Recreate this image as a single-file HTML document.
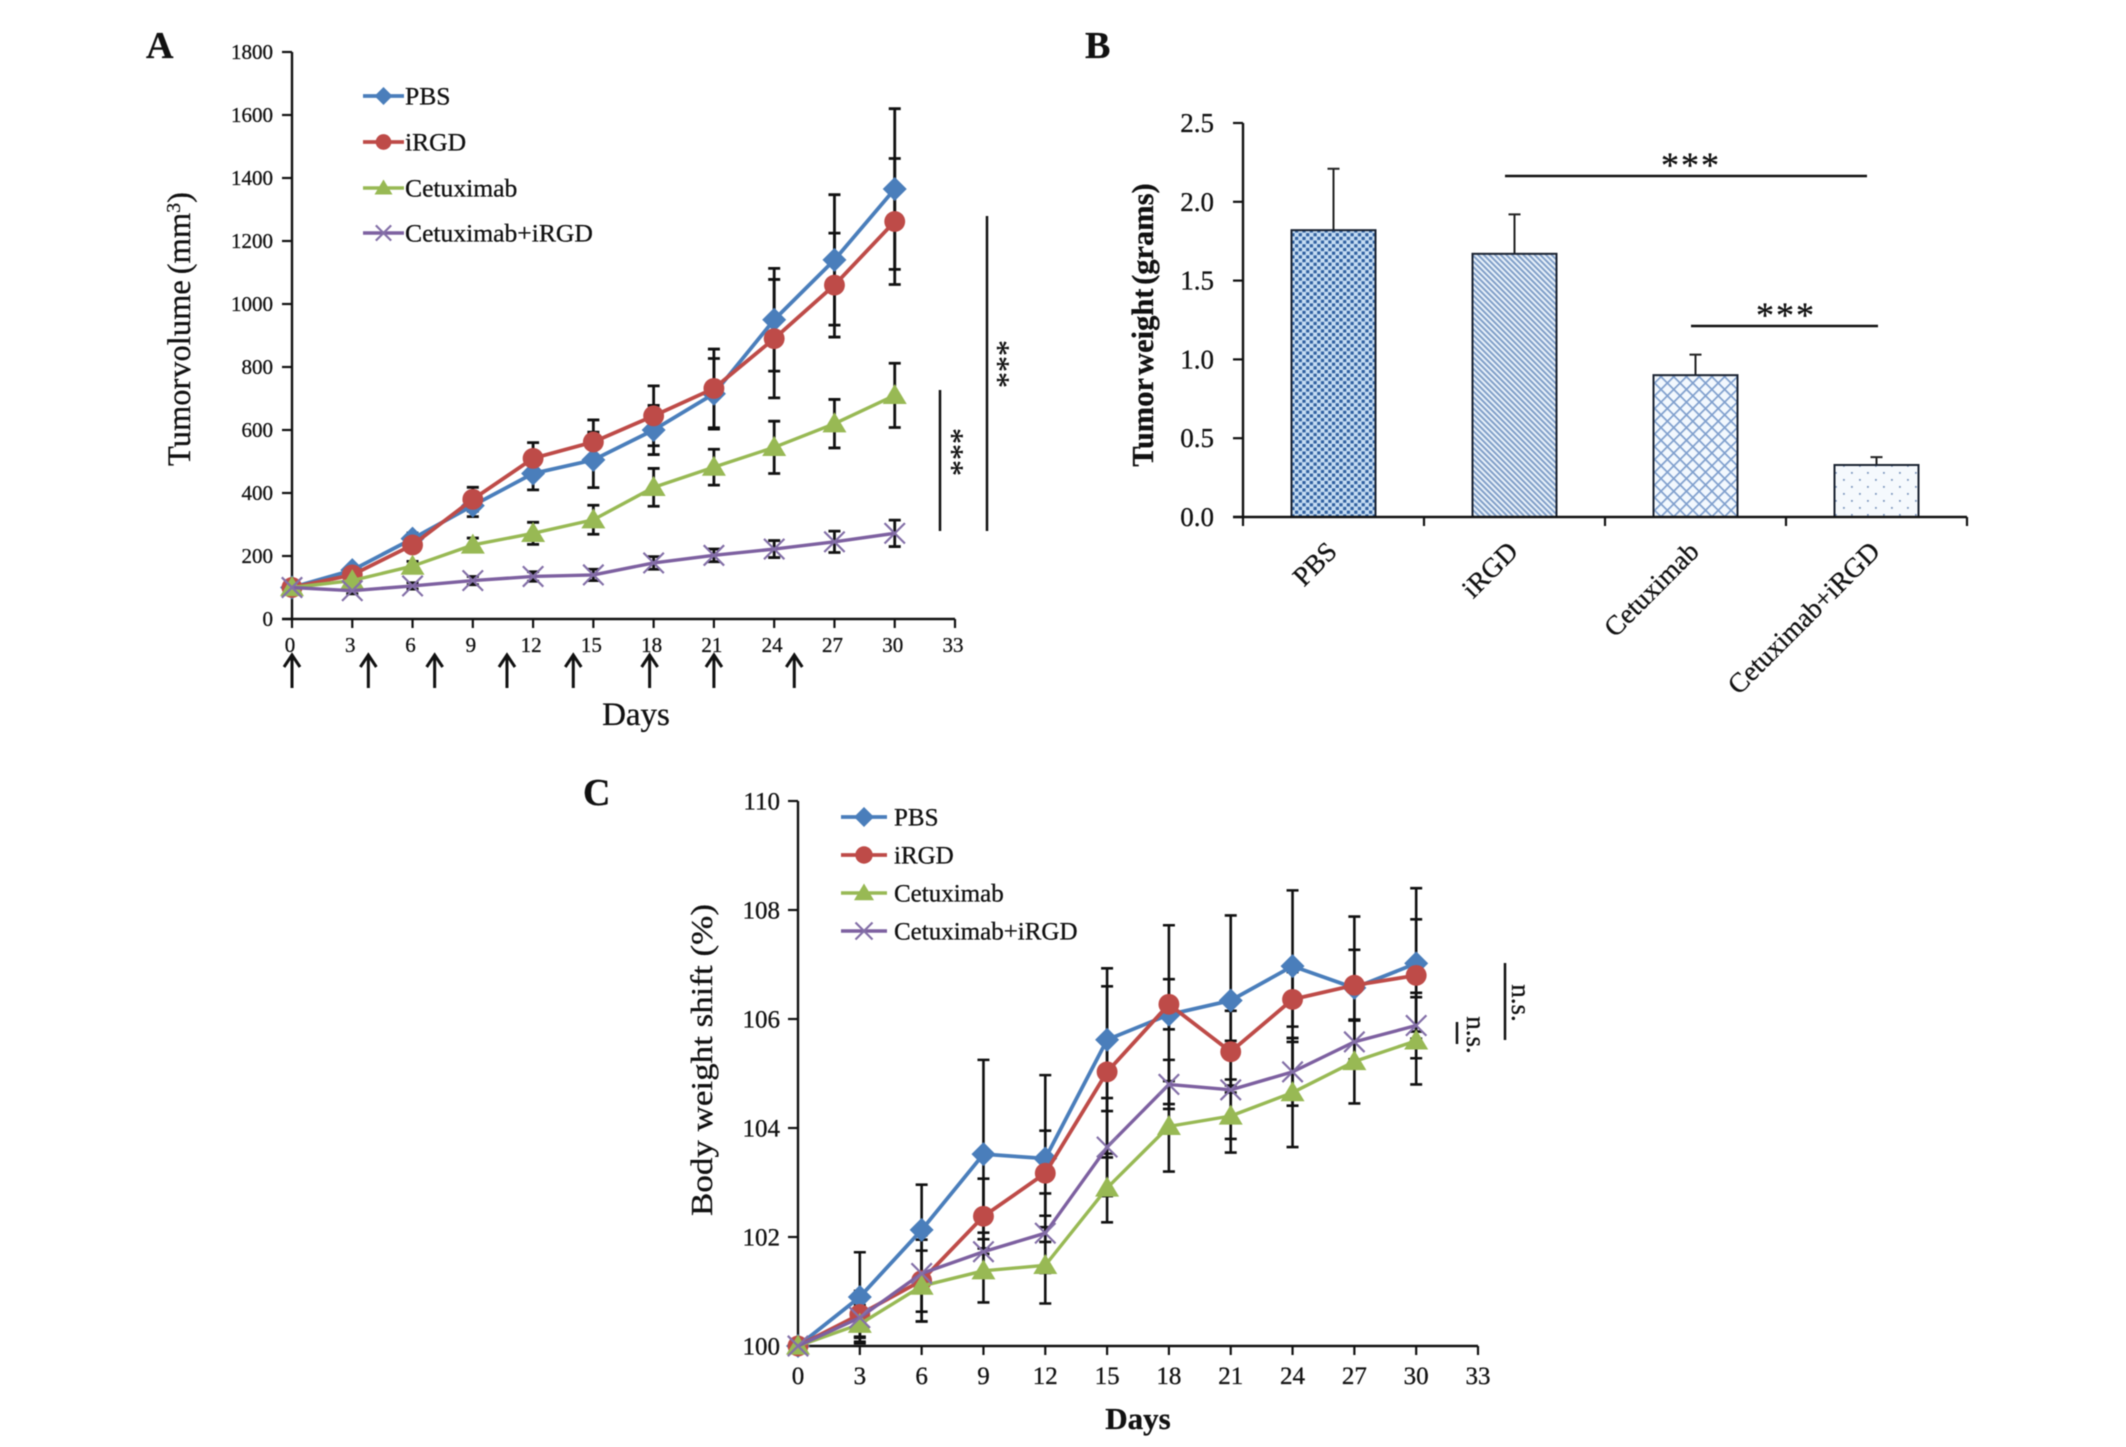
<!DOCTYPE html>
<html>
<head>
<meta charset="utf-8">
<title>Tumor volume, tumor weight and body weight</title>
<style>
html,body{margin:0;padding:0;background:#fff;}
svg{display:block;font-family:"Liberation Serif",serif;filter:blur(0.4px);}
text{fill:#111;stroke:#111;stroke-width:0.3;}
</style>
</head>
<body>
<svg id="fig" xmlns="http://www.w3.org/2000/svg" width="2126" height="1447" viewBox="0 0 2126 1447">
<defs>
<pattern id="fill-dense" patternUnits="userSpaceOnUse" width="7.4" height="7.4">
  <rect width="7.4" height="7.4" fill="#c6ddf3"/>
  <rect x="0" y="0" width="3.2" height="3.2" fill="#2f5f9f"/>
  <rect x="3.7" y="3.7" width="3.2" height="3.2" fill="#2f5f9f"/>
</pattern>
<pattern id="fill-diag" patternUnits="userSpaceOnUse" width="4" height="4" patternTransform="rotate(-45)">
  <rect width="4" height="4" fill="#e8f1fa"/>
  <rect x="0" y="0" width="1.9" height="4" fill="#7d9cc6"/>
</pattern>
<pattern id="fill-cross" patternUnits="userSpaceOnUse" width="9" height="9" patternTransform="rotate(45)">
  <rect width="9" height="9" fill="#f2f8fe"/>
  <rect width="1.7" height="9" fill="#7f9fcd"/>
  <rect width="9" height="1.7" fill="#7f9fcd"/>
</pattern>
<pattern id="fill-dots" patternUnits="userSpaceOnUse" width="16" height="14">
  <rect width="16" height="14" fill="#f5f9fd"/>
  <rect x="3" y="3" width="1.8" height="1.8" fill="#7f98bf"/>
  <rect x="11" y="10" width="1.8" height="1.8" fill="#7f98bf"/>
</pattern>
</defs>

<text x="146" y="58" font-size="38" font-weight="bold">A</text>
<text x="1085" y="58" font-size="38" font-weight="bold">B</text>
<text x="583" y="805" font-size="38" font-weight="bold">C</text>

<g id="panel-a"></g>
<g id="panel-b"></g>
<g id="panel-c"></g>

<text transform="translate(190,329) rotate(-90)" text-anchor="middle" font-size="32.5"><tspan>Tumor</tspan><tspan dx="1">volume</tspan><tspan dx="6">(mm</tspan><tspan dy="-10" font-size="20">3</tspan><tspan dy="10">)</tspan></text>
<text x="636" y="725" text-anchor="middle" font-size="33">Days</text>
<text transform="translate(1153,325) rotate(-90)" text-anchor="middle" font-size="30.5" font-weight="bold" word-spacing="-4">Tumor weight (grams)</text>
<text transform="translate(712,1060) rotate(-90)" text-anchor="middle" font-size="31" textLength="312" lengthAdjust="spacingAndGlyphs">Body weight shift (%)</text>
<text x="1138" y="1429" text-anchor="middle" font-size="31" font-weight="bold">Days</text>

<g stroke="#111" stroke-width="2.5">
  <line x1="987" y1="216" x2="987" y2="531"/>
  <line x1="940" y1="390" x2="940" y2="531"/>
</g>
<text transform="translate(1018,364) rotate(-90)" text-anchor="middle" font-size="32">***</text>
<text transform="translate(972,452) rotate(-90)" text-anchor="middle" font-size="32">***</text>

<g stroke="#111" stroke-width="2.5">
  <line x1="1505" y1="176" x2="1867" y2="176"/>
  <line x1="1691" y1="326" x2="1878" y2="326"/>
</g>
<text x="1691" y="177" text-anchor="middle" font-size="36" letter-spacing="2">***</text>
<text x="1786" y="327" text-anchor="middle" font-size="36" letter-spacing="2">***</text>

<g stroke="#111" stroke-width="2.5">
  <line x1="1505" y1="963" x2="1505" y2="1040"/>
  <line x1="1457" y1="1022" x2="1457" y2="1044"/>
</g>
<text transform="translate(1512,1003) rotate(90)" text-anchor="middle" font-size="27">n.s.</text>
<text transform="translate(1467,1035) rotate(90)" text-anchor="middle" font-size="27">n.s.</text>
</svg>

<script>
// Shared categories and legend
const days = [0, 3, 6, 9, 12, 15, 18, 21, 24, 27, 30];
const xTicks = [0, 3, 6, 9, 12, 15, 18, 21, 24, 27, 30, 33];
const seriesNames = ['PBS', 'iRGD', 'Cetuximab', 'Cetuximab+iRGD'];

// Panel A: tumor volume (mm3)
const aTicks = [0, 200, 400, 600, 800, 1000, 1200, 1400, 1600, 1800];
const aPbs = [100, 155, 255, 360, 462, 505, 600, 715, 950, 1140, 1365];
const aIrgd = [100, 140, 235, 380, 510, 562, 645, 732, 890, 1060, 1262];
const aCet = [100, 122, 168, 235, 272, 315, 418, 482, 545, 620, 710];
const aCombo = [100, 90, 105, 122, 135, 140, 178, 202, 222, 245, 272];
const aPbsErr = [0, 12, 18, 35, 52, 88, 78, 112, 163, 207, 255];
const aIrgdErr = [0, 14, 20, 38, 50, 70, 95, 125, 188, 165, 200];
const aCetErr = [0, 10, 15, 22, 35, 46, 60, 57, 83, 77, 102];
const aComboErr = [0, 10, 10, 13, 15, 18, 20, 20, 27, 34, 42];
const dosingDays = [0, 3.8, 7.1, 10.7, 14, 17.8, 21, 25];

// Panel B: tumor weight (grams)
const bTicks = [0, 0.5, 1, 1.5, 2, 2.5];
const bCategories = ['PBS', 'iRGD', 'Cetuximab', 'Cetuximab+iRGD'];
const bValues = [1.82, 1.67, 0.9, 0.33];
const bErrors = [0.39, 0.25, 0.13, 0.05];

// Panel C: body weight shift (%)
const cTicks = [100, 102, 104, 106, 108, 110];
const cPbs = [100, 100.9, 102.13, 103.52, 103.44, 105.62, 106.08, 106.34, 106.97, 106.57, 107.02];
const cIrgd = [100, 100.58, 101.2, 102.38, 103.17, 105.03, 106.27, 105.4, 106.36, 106.62, 106.8];
const cCet = [100, 100.4, 101.1, 101.38, 101.48, 102.9, 104.03, 104.22, 104.65, 105.22, 105.6];
const cCombo = [100, 100.52, 101.33, 101.73, 102.07, 103.65, 104.8, 104.7, 105.03, 105.58, 105.88];
const cPbsErr = [0, 0.82, 0.83, 1.73, 1.53, 1.31, 1.64, 1.56, 1.39, 1.31, 1.38];
const cIrgdErr = [0, 0.43, 0.75, 0.69, 0.78, 1.57, 0.46, 0.75, 0.5, 0.65, 1.03];
const cCetErr = [0, 0.35, 0.65, 0.58, 0.7, 0.63, 0.83, 0.67, 1, 0.77, 0.8];
const cComboErr = [0, 0.35, 0.7, 0.35, 0.73, 0.9, 0.45, 0.9, 0.62, 0.4, 0.6];

const SVGNS = 'http://www.w3.org/2000/svg';
const colors = ['#4a7ebb', '#be4b48', '#98b954', '#7d60a0'];

function make(tag, attrs, parent) {
  const el = document.createElementNS(SVGNS, tag);
  for (const k in attrs) el.setAttribute(k, attrs[k]);
  parent.appendChild(el);
  return el;
}

function drawMarker(parent, kind, cx, cy, r, name) {
  let el;
  if (kind === 0) {
    el = make('polygon', {points: (cx - r) + ',' + cy + ' ' + cx + ',' + (cy - r) + ' ' + (cx + r) + ',' + cy + ' ' + cx + ',' + (cy + r), fill: colors[0]}, parent);
  } else if (kind === 1) {
    el = make('circle', {cx: cx, cy: cy, r: r * 0.87, fill: colors[1]}, parent);
  } else if (kind === 2) {
    el = make('polygon', {points: (cx - r) + ',' + (cy + r * 0.72) + ' ' + cx + ',' + (cy - r * 0.95) + ' ' + (cx + r) + ',' + (cy + r * 0.72), fill: colors[2]}, parent);
  } else {
    const d = r * 0.85;
    const dPath = 'M' + (cx - d) + ' ' + (cy - d) + 'L' + (cx + d) + ' ' + (cy + d) + 'M' + (cx - d) + ' ' + (cy + d) + 'L' + (cx + d) + ' ' + (cy - d);
    el = make('path', {d: dPath, stroke: '#8470a8', 'stroke-width': 2.2, fill: 'none'}, parent);
  }
  
  
  return el;
}

function drawLinePanel(cfg) {
  const root = document.getElementById(cfg.id);
  const x = function (d) { return cfg.x0 + (d - xTicks[0]) / (xTicks[xTicks.length - 1] - xTicks[0]) * (cfg.x1 - cfg.x0); };
  const yMin = cfg.yTicks[0];
  const yMax = cfg.yTicks[cfg.yTicks.length - 1];
  const y = function (v) { return cfg.y0 + (v - yMin) / (yMax - yMin) * (cfg.y1 - cfg.y0); };

  cfg.yTicks.forEach(function (t) {
    const tick = make('line', {x1: cfg.x0 - 10, x2: cfg.x0, y1: y(t), y2: y(t), stroke: '#111', 'stroke-width': 2.2}, root);
    
    
    const lab = make('text', {x: cfg.x0 - cfg.yLabelGap, y: y(t) + cfg.fontSize * 0.33, 'text-anchor': 'end', 'font-size': cfg.fontSize}, root);
    lab.textContent = t;
    
    
  });
  xTicks.forEach(function (t) {
    const tick = make('line', {x1: x(t), x2: x(t), y1: cfg.y0, y2: cfg.y0 + 9, stroke: '#111', 'stroke-width': 2.2}, root);
    
    
    const lab = make('text', {x: x(t) + cfg.xLabelShift, y: cfg.xLabelY, 'text-anchor': 'middle', 'font-size': cfg.fontSize}, root);
    lab.textContent = t;
    
    
  });
  const yAxis = make('line', {x1: cfg.x0, x2: cfg.x0, y1: cfg.y1, y2: cfg.y0 + 1, stroke: '#111', 'stroke-width': 2.4}, root);
  
  
  const xAxis = make('line', {x1: cfg.x0 - 10, x2: cfg.x1, y1: cfg.y0, y2: cfg.y0, stroke: '#111', 'stroke-width': 2.4}, root);
  
  

  // Error bars sit beneath every series
  cfg.series.forEach(function (vals, s) {
    vals.forEach(function (v, i) {
      const e = cfg.errors[s][i];
      if (!e) return;
      const px = x(days[i]);
      const path = 'M' + px + ' ' + y(v - e) + 'L' + px + ' ' + y(v + e) +
        'M' + (px - 6) + ' ' + y(v + e) + 'L' + (px + 6) + ' ' + y(v + e) +
        'M' + (px - 6) + ' ' + y(v - e) + 'L' + (px + 6) + ' ' + y(v - e);
      const bar = make('path', {d: path, stroke: '#111', 'stroke-width': cfg.errWidth, fill: 'none'}, root);
      
      
    });
  });

  cfg.series.forEach(function (vals, s) {
    const pts = vals.map(function (v, i) { return x(days[i]) + ',' + y(v); }).join(' ');
    const line = make('polyline', {points: pts, fill: 'none', stroke: colors[s], 'stroke-width': s < 2 ? cfg.lineWidth : cfg.lineWidth - 0.4, 'stroke-linejoin': 'round'}, root);
    
    
    vals.forEach(function (v, i) {
      drawMarker(root, s, x(days[i]), y(v), cfg.markerR, 'series-point');
    });
  });

  seriesNames.forEach(function (name, i) {
    const ly = cfg.legendY[i];
    const entry = make('g', {}, root);
    
    
    const swatch = make('line', {x1: cfg.legendX0, x2: cfg.legendX1, y1: ly, y2: ly, stroke: colors[i], 'stroke-width': cfg.lineWidth - (i < 2 ? 0 : 0.4)}, entry);
    
    
    drawMarker(entry, i, (cfg.legendX0 + cfg.legendX1) / 2, ly, cfg.legendMarkerR, 'legend-marker');
    const txt = make('text', {x: cfg.legendTextX, y: ly + cfg.legendFont * 0.33, 'font-size': cfg.legendFont}, entry);
    txt.textContent = name;
    
    
  });
  return x;
}

const xA = drawLinePanel({
  id: 'panel-a', x0: 292, x1: 955, y0: 619, y1: 52, yTicks: aTicks, yLabelGap: 19, fontSize: 21, xLabelY: 652, xLabelShift: -2,
  series: [aPbs, aIrgd, aCet, aCombo], errors: [aPbsErr, aIrgdErr, aCetErr, aComboErr],
  lineWidth: 3.8, markerR: 12, errWidth: 2.8,
  legendY: [96, 142, 188, 233], legendX0: 363, legendX1: 404, legendTextX: 405, legendFont: 25.6, legendMarkerR: 9
});

drawLinePanel({
  id: 'panel-c', x0: 798, x1: 1478, y0: 1346, y1: 801, yTicks: cTicks, yLabelGap: 18, fontSize: 25, xLabelY: 1384, xLabelShift: 0,
  series: [cPbs, cIrgd, cCet, cCombo], errors: [cPbsErr, cIrgdErr, cCetErr, cComboErr],
  lineWidth: 3.8, markerR: 12, errWidth: 2.6,
  legendY: [817, 855, 893, 931], legendX0: 841, legendX1: 887, legendTextX: 894, legendFont: 25, legendMarkerR: 10
});

// Dosing arrows beneath panel A
(function () {
  const root = document.getElementById('panel-a');
  dosingDays.forEach(function (d) {
    const px = xA(d);
    const path = 'M' + px + ' 688L' + px + ' 655M' + (px - 8) + ' 667L' + px + ' 655L' + (px + 8) + ' 667';
    const arrow = make('path', {d: path, stroke: '#111', 'stroke-width': 3, fill: 'none'}, root);
    
    
  });
})();

// Panel B bars
(function () {
  const root = document.getElementById('panel-b');
  const bx0 = 1243, bx1 = 1967, by0 = 517, by1 = 123;
  const band = (bx1 - bx0) / bCategories.length;
  const xB = function (i) { return bx0 + band * (i + 0.5); };
  const yB = function (v) { return by0 + (v - bTicks[0]) / (bTicks[bTicks.length - 1] - bTicks[0]) * (by1 - by0); };
  const fills = ['url(#fill-dense)', 'url(#fill-diag)', 'url(#fill-cross)', 'url(#fill-dots)'];
  const barW = 84;

  bTicks.forEach(function (t) {
    const tick = make('line', {x1: bx0 - 10, x2: bx0, y1: yB(t), y2: yB(t), stroke: '#111', 'stroke-width': 2.2}, root);
    
    
    const lab = make('text', {x: bx0 - 29, y: yB(t) + 9, 'text-anchor': 'end', 'font-size': 27}, root);
    lab.textContent = t.toFixed(1);
    
    
  });
  bValues.forEach(function (v, i) {
    const cx = xB(i);
    const err = make('path', {d: 'M' + cx + ' ' + yB(v) + 'L' + cx + ' ' + yB(v + bErrors[i]) + 'M' + (cx - 6) + ' ' + yB(v + bErrors[i]) + 'L' + (cx + 6) + ' ' + yB(v + bErrors[i]), stroke: '#222', 'stroke-width': 2, fill: 'none'}, root);
    
    
    const bar = make('rect', {x: cx - barW / 2, y: yB(v), width: barW, height: yB(0) - yB(v), fill: fills[i], stroke: '#1a2230', 'stroke-width': 2}, root);
    
    
    const lab = make('text', {transform: 'translate(' + (cx + 5) + ',553) rotate(-45)', 'text-anchor': 'end', 'font-size': 27.5}, root);
    lab.textContent = bCategories[i];
    
    
  });
  for (let i = 0; i <= bCategories.length; i++) {
    const tick = make('line', {x1: bx0 + band * i, x2: bx0 + band * i, y1: by0, y2: by0 + 9, stroke: '#111', 'stroke-width': 2.2}, root);
    
    
  }
  const yAxis = make('line', {x1: bx0, x2: bx0, y1: by1, y2: by0 + 1, stroke: '#111', 'stroke-width': 2.4}, root);
  
  
  const xAxis = make('line', {x1: bx0 - 10, x2: bx1, y1: by0, y2: by0, stroke: '#111', 'stroke-width': 2.4}, root);
  
  
})();
</script>
</body>
</html>
